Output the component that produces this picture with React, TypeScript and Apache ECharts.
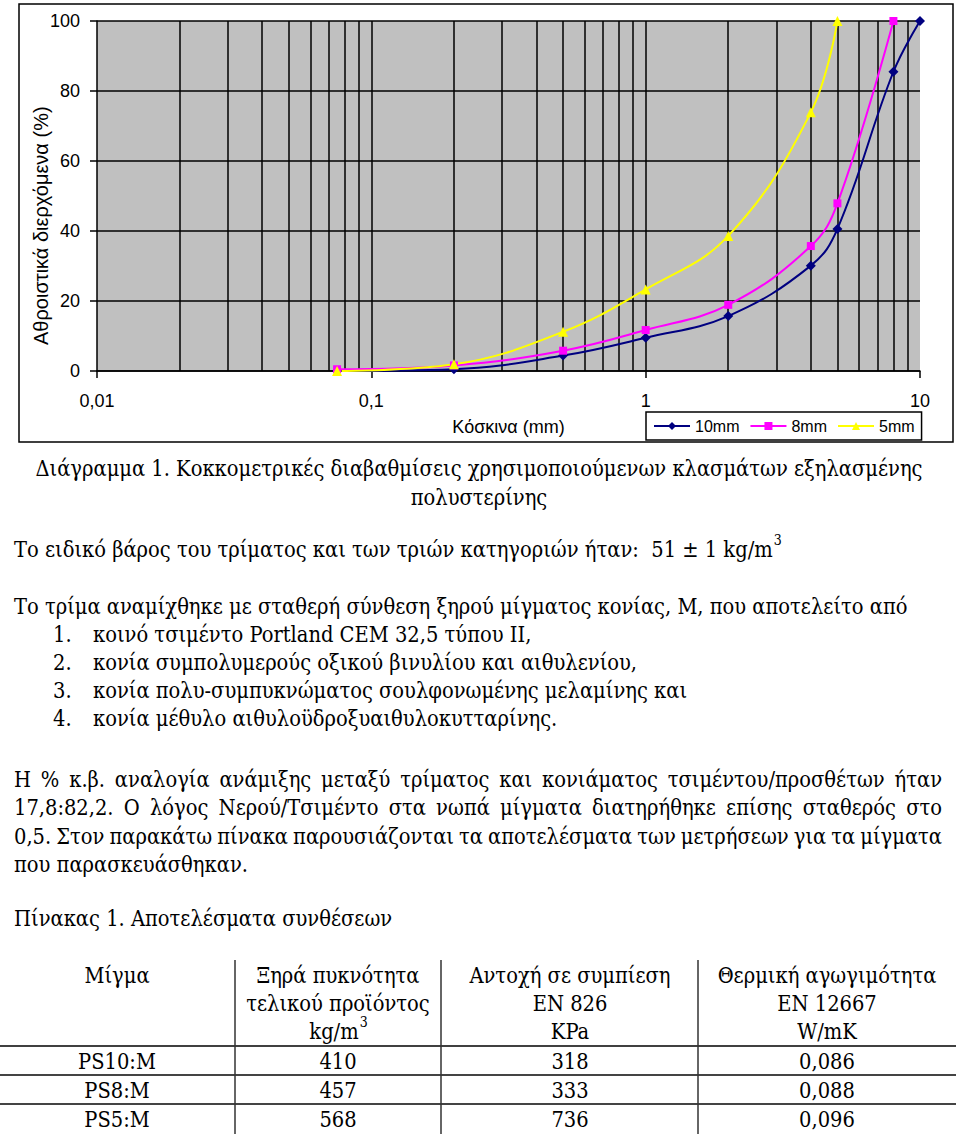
import React, { useEffect, useRef } from "react";
import * as echarts from "echarts";

// ---------- chart data ----------
const sieves = [0.075, 0.2, 0.5, 1, 2, 4, 5, 8, 10];
const pass10mm = [0, 0.5, 4.4, 9.5, 15.7, 30.1, 40.6, 85.5, 100];
const pass8mm = [0.5, 1.6, 5.8, 11.7, 18.9, 35.7, 47.9, 100];
const pass5mm = [0, 1.9, 11.2, 23.3, 38.6, 73.9, 100];
const seriesNames = ["10mm", "8mm", "5mm"];
const seriesColors = ["#000080", "#FF00FF", "#FFFF00"];
const seriesSymbols = ["diamond", "rect", "triangle"];
const xGridValues = [
  0.02, 0.03, 0.04, 0.05, 0.06, 0.07, 0.08, 0.09, 0.1,
  0.2, 0.3, 0.4, 0.5, 0.6, 0.7, 0.8, 0.9, 1,
  2, 3, 4, 5, 6, 7, 8, 9,
];
const yAxisTitle = "Αθροιστικά διερχόμενα (%)";
const xAxisTitle = "Κόσκινα (mm)";

// ---------- document text ----------
const captionLines = [
  "Διάγραμμα 1. Κοκκομετρικές διαβαθμίσεις χρησιμοποιούμενων κλασμάτων εξηλασμένης",
  "πολυστερίνης",
];
const densityLine = "Το ειδικό βάρος του τρίματος και των τριών κατηγοριών ήταν:  51 ± 1 kg/m";
const supThree = "3";
const mixIntro = "Το τρίμα αναμίχθηκε με σταθερή σύνθεση ξηρού μίγματος κονίας, Μ, που αποτελείτο από";
const mixItems = [
  "κοινό τσιμέντο Portland CEM 32,5 τύπου ΙΙ,",
  "κονία συμπολυμερούς οξικού βινυλίου και αιθυλενίου,",
  "κονία πολυ-συμπυκνώματος σουλφονωμένης μελαμίνης και",
  "κονία μέθυλο αιθυλοϋδροξυαιθυλοκυτταρίνης.",
];
const paragraphLines = [
  "Η % κ.β. αναλογία ανάμιξης μεταξύ τρίματος και κονιάματος τσιμέντου/προσθέτων ήταν",
  "17,8:82,2. Ο λόγος Νερού/Τσιμέντο στα νωπά μίγματα διατηρήθηκε επίσης σταθερός στο",
  "0,5. Στον παρακάτω πίνακα παρουσιάζονται τα αποτελέσματα των μετρήσεων για τα μίγματα",
  "που παρασκευάσθηκαν.",
];
const tableTitle = "Πίνακας 1. Αποτελέσματα συνθέσεων";
const tableHeaders = [
  ["Μίγμα"],
  ["Ξηρά πυκνότητα", "τελικού προϊόντος", "kg/m"],
  ["Αντοχή σε συμπίεση", "EN 826", "KPa"],
  ["Θερμική αγωγιμότητα", "EN 12667", "W/mK"],
];
const mixes = ["PS10:M", "PS8:M", "PS5:M"];
const dryDensity = ["410", "457", "568"];
const compStrength = ["318", "333", "736"];
const thermalCond = ["0,086", "0,088", "0,096"];

const SANS = "'Liberation Sans', Arial, sans-serif";
const SERIF = "'DejaVu Serif Condensed', 'DejaVu Serif', serif";

let measureCtx: CanvasRenderingContext2D | null = null;
function measure(text: string, size: number): number {
  if (!measureCtx) measureCtx = document.createElement("canvas").getContext("2d");
  if (!measureCtx) return text.length * size * 0.5;
  measureCtx.font = `${size}px ${SERIF}`;
  return measureCtx.measureText(text).width;
}

function buildGraphic(): any[] {
  // font size chosen so the full-width intro line spans the reference width
  const FS = Math.min(23, Math.max(16, (22 * 894) / measure(mixIntro, 22)));
  const SUP = Math.round(FS * 0.64);

  const t = (text: string, x: number, y: number, align: string = "left", size: number = FS): any => ({
    type: "text",
    x,
    y,
    silent: true,
    style: { text, fontSize: size, fontFamily: SERIF, fill: "#000", align, verticalAlign: "middle" },
  });
  const justified = (line: string, left: number, right: number, y: number): any[] => {
    const words = line.split(" ");
    const widths = words.map((w) => measure(w, FS));
    const total = widths.reduce((a, b) => a + b, 0);
    const gap = (right - left - total) / (words.length - 1);
    const out: any[] = [];
    let x = left;
    words.forEach((w, i) => {
      out.push(t(w, x, y));
      x += widths[i] + gap;
    });
    return out;
  };
  const hline = (x1: number, x2: number, y: number, color = "#000", w = 1.5): any => ({
    type: "line", silent: true, shape: { x1, y1: y, x2, y2: y }, style: { stroke: color, lineWidth: w },
  });
  const vline = (x: number, y1: number, y2: number, color = "#000", w = 1.5): any => ({
    type: "line", silent: true, shape: { x1: x, y1, x2: x, y2 }, style: { stroke: color, lineWidth: w },
  });

  const els: any[] = [];
  els.push({
    type: "rect",
    silent: true,
    z: -1,
    shape: { x: 19, y: 4, width: 934, height: 438 },
    style: { fill: "none", stroke: "#000", lineWidth: 1.5 },
  });
  els.push({
    type: "text",
    x: 41,
    y: 345,
    rotation: Math.PI / 2,
    silent: true,
    style: { text: yAxisTitle, fontSize: 20, fontFamily: SANS, fill: "#000", align: "left", verticalAlign: "middle" },
  });

  const L = 14;
  const R = 942;
  els.push(t(captionLines[0], 479, 468, "center"));
  els.push(t(captionLines[1], 479, 497, "center"));
  els.push(t(densityLine, L, 549));
  els.push(t(supThree, L + measure(densityLine, FS) + 1, 540, "left", SUP));
  els.push(t(mixIntro, L, 606));
  mixItems.forEach((item, i) => {
    const y = 634 + i * 28.3;
    els.push(t(`${i + 1}.`, 53, y));
    els.push(t(item, 93, y));
  });
  const pY = [779, 807.5, 836, 864.5];
  paragraphLines.forEach((line, i) => {
    if (i < paragraphLines.length - 1) els.push(...justified(line, L, R, pY[i]));
    else els.push(t(line, L, pY[i]));
  });
  els.push(t(tableTitle, L, 918));

  const colCenters = [117, 338, 570, 827];
  const headY = [975, 1003, 1031];
  tableHeaders.forEach((lines, c) => {
    lines.forEach((line, r) => {
      if (line === "kg/m") {
        const w1 = measure(line, FS);
        const w2 = measure(supThree, SUP);
        const x0 = colCenters[c] - (w1 + w2) / 2;
        els.push(t(line, x0, headY[r]));
        els.push(t(supThree, x0 + w1 + 1, headY[r] - 9, "left", SUP));
      } else {
        els.push(t(line, colCenters[c], headY[r], "center"));
      }
    });
  });
  const rowY = [1061, 1090, 1119];
  mixes.forEach((m, i) => {
    els.push(t(m, colCenters[0], rowY[i], "center"));
    els.push(t(dryDensity[i], colCenters[1], rowY[i], "center"));
    els.push(t(compStrength[i], colCenters[2], rowY[i], "center"));
    els.push(t(thermalCond[i], colCenters[3], rowY[i], "center"));
  });
  els.push(hline(0, 956, 1046, "#000", 1.5));
  els.push(hline(0, 956, 1075, "#444", 2));
  els.push(hline(0, 956, 1104, "#444", 2));
  [235, 441, 698].forEach((x) => els.push(vline(x, 960, 1134, "#333", 1.5)));
  return els;
}

function fmtTick(v: number): string {
  return String(Number(v.toPrecision(6))).replace(".", ",");
}

export default function App() {
  const ref = useRef<HTMLDivElement>(null);
  useEffect(() => {
    if (!ref.current) return;
    const chart = echarts.init(ref.current, null, { renderer: "svg" });
    const datasets = [pass10mm, pass8mm, pass5mm];
    const series: any[] = datasets.map((vals, k) => ({
      name: seriesNames[k],
      type: "line",
      data: vals.map((v, i) => [sieves[i], v]),
      smooth: 0.4,
      symbol: seriesSymbols[k],
      symbolSize: k === 1 ? 8 : 10,
      itemStyle: { color: seriesColors[k], borderWidth: 0 },
      lineStyle: { color: seriesColors[k], width: 2 },
      z: 3,
      silent: true,
    }));
    series[0].markLine = {
      z: 1,
      silent: true,
      symbol: ["none", "none"],
      label: { show: false },
      emphasis: { disabled: true },
      lineStyle: { color: "#000", width: 1.5, type: "solid" },
      data: xGridValues.map((v) => ({ xAxis: v })),
    };

    chart.setOption({
      animation: false,
      backgroundColor: "#fff",
      grid: {
        left: 97,
        top: 21,
        width: 823,
        height: 350,
        show: true,
        backgroundColor: "#C0C0C0",
        borderWidth: 0,
        containLabel: false,
      },
      legend: {
        data: seriesNames,
        left: 646,
        top: 412,
        orient: "horizontal",
        padding: [6, 7, 6, 7],
        itemWidth: 36,
        itemHeight: 10,
        itemGap: 10,
        borderColor: "#000",
        borderWidth: 1.5,
        backgroundColor: "#fff",
        selectedMode: false,
        textStyle: { fontSize: 16, fontFamily: SANS, color: "#000" },
      },
      xAxis: {
        type: "log",
        logBase: 10,
        min: 0.01,
        max: 10,
        name: xAxisTitle,
        nameLocation: "middle",
        nameGap: 47,
        nameTextStyle: { fontSize: 18, fontFamily: SANS, color: "#000" },
        axisLine: { show: true, onZero: false, lineStyle: { color: "#000", width: 1.5 } },
        axisTick: { show: true, length: 7, lineStyle: { color: "#000", width: 1.5 } },
        axisLabel: { margin: 21, fontSize: 18, fontFamily: SANS, color: "#000", formatter: fmtTick },
        splitLine: { show: false },
      },
      yAxis: {
        type: "value",
        min: 0,
        max: 100,
        interval: 20,
        axisLine: { show: true, lineStyle: { color: "#000", width: 1.5 } },
        axisTick: { show: true, length: 7, lineStyle: { color: "#000", width: 1.5 } },
        axisLabel: { margin: 17, fontSize: 18, fontFamily: SANS, color: "#000" },
        splitLine: { show: true, lineStyle: { color: "#000", width: 1.5 } },
      },
      series,
      graphic: { elements: buildGraphic() },
    });
    return () => chart.dispose();
  }, []);
  return (
    <div
      ref={ref}
      style={{ position: "absolute", left: 0, top: 0, width: 960, height: 1137, background: "#fff" }}
    />
  );
}
